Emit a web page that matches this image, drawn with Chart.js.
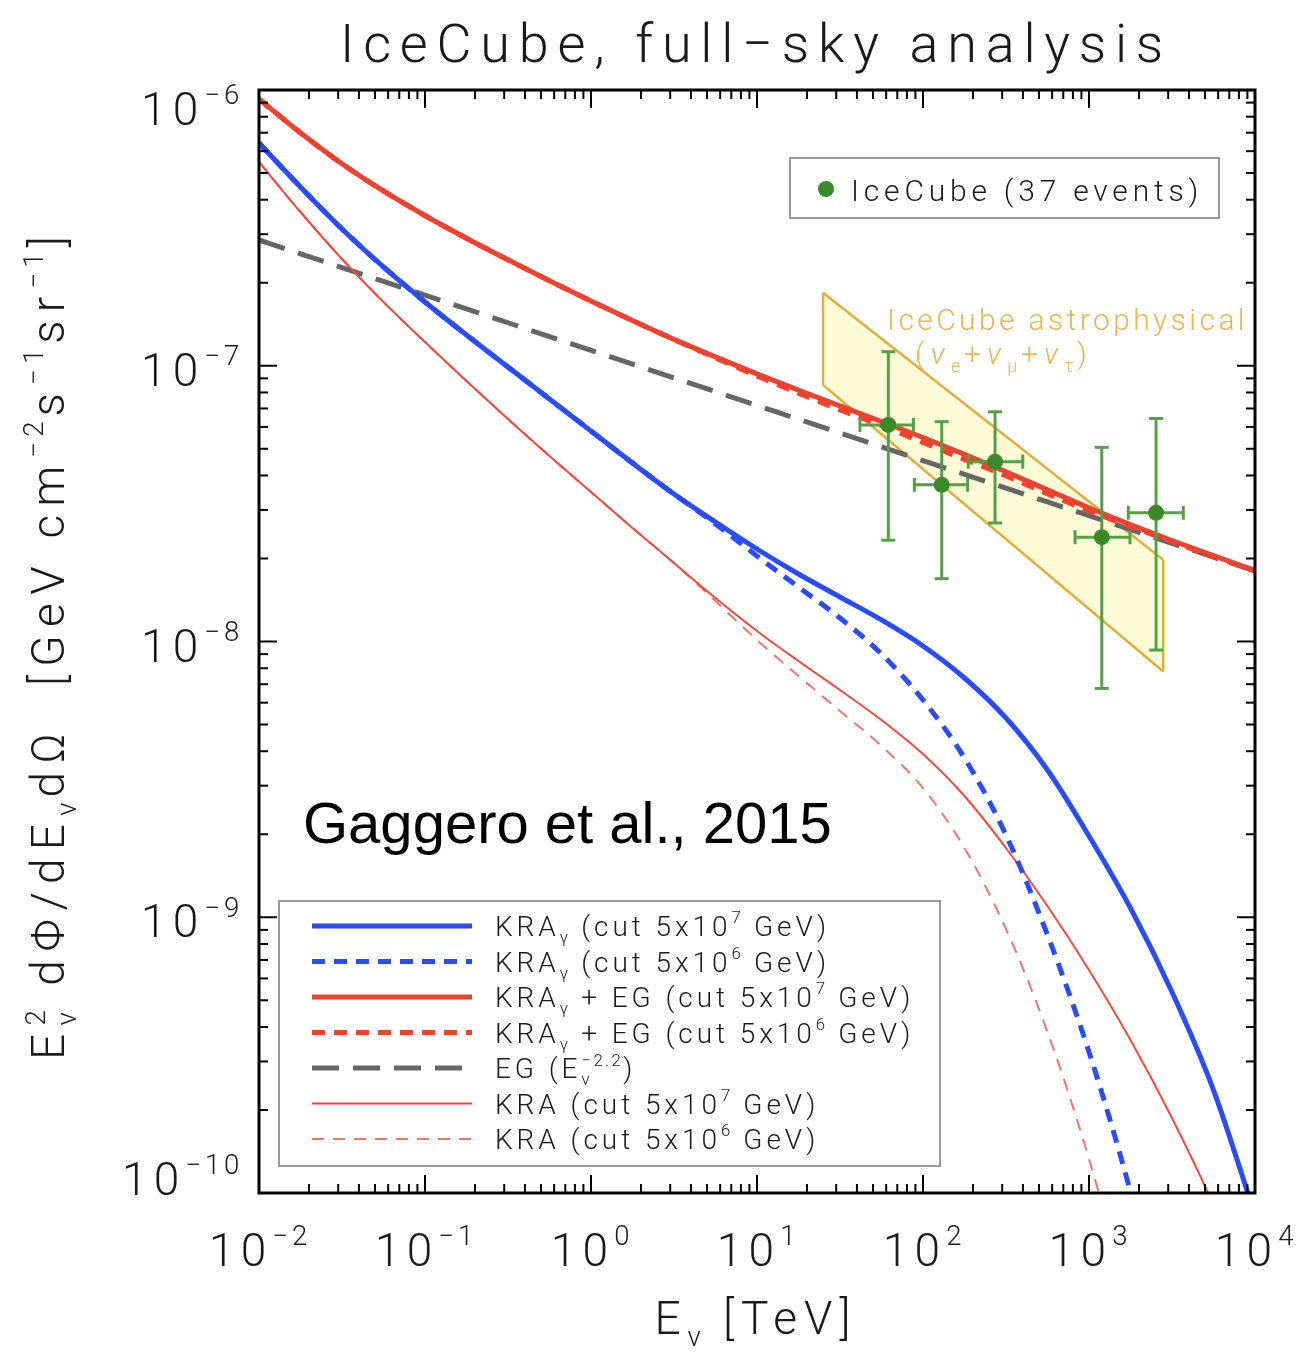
<!DOCTYPE html>
<html><head><meta charset="utf-8">
<script src="https://cdn.jsdelivr.net/npm/chart.js@4.4.1/dist/chart.umd.min.js"></script>
<style>html,body{margin:0;padding:0;background:#fff;}canvas{display:block;}</style>
</head><body>
<canvas id="c" width="1313" height="1353"></canvas>
<script>
// ---------------- data ----------------
const energyTeV = [0.01, 0.01778, 0.03162, 0.05623, 0.1, 0.1778, 0.3162, 0.5623, 1, 1.778, 3.162, 5.623, 10,
                   17.78, 31.62, 56.23, 100, 177.8, 316.2, 562.3, 1000, 1778, 3162, 5623, 10000];
const kraGammaCut7   = [6.424e-7, 4.448e-7, 3.133e-7, 2.281e-7, 1.703e-7, 1.293e-7, 9.896e-8, 7.576e-8, 5.799e-8, 4.439e-8,
                        3.427e-8, 2.712e-8, 2.165e-8, 1.757e-8, 1.450e-8, 1.197e-8, 9.631e-9, 7.373e-9, 5.279e-9, 3.420e-9,
                        1.970e-9, 1.080e-9, 5.357e-10, 2.363e-10, 8.32e-11];
const kraGammaCut6   = [6.424e-7, 4.448e-7, 3.133e-7, 2.281e-7, 1.703e-7, 1.293e-7, 9.896e-8, 7.576e-8, 5.799e-8, 4.439e-8,
                        3.427e-8, 2.668e-8, 2.042e-8, 1.576e-8, 1.217e-8, 9.009e-9, 6.136e-9, 3.780e-9, 1.987e-9, 8.621e-10,
                        3.245e-10, 1.008e-10, 2.48e-11, null, null];
const kraGammaEgCut7 = [9.282e-7, 6.995e-7, 5.403e-7, 4.304e-7, 3.506e-7, 2.900e-7, 2.422e-7, 2.034e-7, 1.718e-7, 1.458e-7,
                        1.246e-7, 1.077e-7, 9.343e-8, 8.154e-8, 7.152e-8, 6.279e-8, 5.492e-8, 4.773e-8, 4.126e-8, 3.548e-8,
                        3.055e-8, 2.655e-8, 2.324e-8, 2.047e-8, 1.811e-8];
const kraGammaEgCut6 = [9.282e-7, 6.995e-7, 5.403e-7, 4.304e-7, 3.506e-7, 2.900e-7, 2.422e-7, 2.034e-7, 1.718e-7, 1.458e-7,
                        1.246e-7, 1.068e-7, 9.188e-8, 7.952e-8, 6.917e-8, 6.073e-8, 5.268e-8, 4.578e-8, 3.990e-8, 3.432e-8,
                        2.979e-8, 2.611e-8, 2.305e-8, 2.030e-8, 1.805e-8];
const egPowerLaw     = [2.858e-7, 2.547e-7, 2.270e-7, 2.023e-7, 1.803e-7, 1.607e-7, 1.432e-7, 1.276e-7, 1.138e-7, 1.014e-7,
                        9.036e-8, 8.054e-8, 7.178e-8, 6.397e-8, 5.702e-8, 5.082e-8, 4.529e-8, 4.036e-8, 3.598e-8, 3.206e-8,
                        2.858e-8, 2.547e-8, 2.270e-8, 2.023e-8, 1.803e-8];
const kraCut7        = [5.482e-7, 3.611e-7, 2.439e-7, 1.703e-7, 1.219e-7, 8.808e-8, 6.411e-8, 4.706e-8, 3.485e-8, 2.580e-8,
                        1.926e-8, 1.438e-8, 1.092e-8, 8.497e-9, 6.670e-9, 5.192e-9, 3.909e-9, 2.752e-9, 1.783e-9, 1.099e-9,
                        6.438e-10, 3.588e-10, 1.871e-10, 9.047e-11, 3.925e-11];
const kraCut6        = [5.482e-7, 3.611e-7, 2.439e-7, 1.703e-7, 1.219e-7, 8.808e-8, 6.411e-8, 4.706e-8, 3.485e-8, 2.580e-8,
                        1.926e-8, 1.402e-8, 1.013e-8, 7.497e-9, 5.598e-9, 4.179e-9, 2.942e-9, 1.783e-9, 9.066e-10, 3.836e-10,
                        1.329e-10, 3.765e-11, null, null, null];

// IceCube 37 events
const icEnergy   = [61.8, 129.7, 271.6, 1194, 2535];
const icEnergyLo = [41.7, 88.7, 187.5, 824, 1725];
const icEnergyHi = [87.5, 185.8, 399, 1766, 3698];
const icFlux     = [6.10e-8, 3.70e-8, 4.49e-8, 2.39e-8, 2.93e-8];
const icFluxLo   = [2.33e-8, 1.69e-8, 2.69e-8, 6.76e-9, 9.31e-9];
const icFluxHi   = [1.125e-7, 6.27e-8, 6.81e-8, 5.06e-8, 6.44e-8];

// IceCube astrophysical band
const bandEnergy = [25, 2800];
const bandUpper  = [1.84e-7, 1.98e-8];
const bandLower  = [8.51e-8, 7.78e-9];

// ticks
const xTickExponents = [-2, -1, 0, 1, 2, 3, 4];
const yTickExponents = [-10, -9, -8, -7, -6];

const legendLabels = [
  [{t:'KRA'},{t:'γ',k:'sub'},{t:' (cut 5x10'},{t:'7',k:'sup'},{t:' GeV)'}],
  [{t:'KRA'},{t:'γ',k:'sub'},{t:' (cut 5x10'},{t:'6',k:'sup'},{t:' GeV)'}],
  [{t:'KRA'},{t:'γ',k:'sub'},{t:' + EG (cut 5x10'},{t:'7',k:'sup'},{t:' GeV)'}],
  [{t:'KRA'},{t:'γ',k:'sub'},{t:' + EG (cut 5x10'},{t:'6',k:'sup'},{t:' GeV)'}],
  [{t:'EG ('},{t:'E'},{k:'stack',sup:'−2.2',sub:'ν'},{t:')'}],
  [{t:'KRA (cut 5x10'},{t:'7',k:'sup'},{t:' GeV)'}],
  [{t:'KRA (cut 5x10'},{t:'6',k:'sup'},{t:' GeV)'}]
];

// ---------------- styles ----------------
const BLUE = '#2a4cf6', RED = '#ee4231', RED_THIN = '#f04a3c', RED_THIN_D = '#f27468', GRAY = '#666666';
const GREEN = '#3b8a2a', GREEN_BAR = '#55a046', GOLD = '#e2ad3c', GOLD_TXT = '#e9b451';
const FAM = 'Roboto, "Liberation Sans", Arial, sans-serif';
const WEIGHT = '300';

function pts(arr){ return energyTeV.map((e,i)=>({x:e,y:arr[i]})).filter(p=>p.y!=null); }
function lineDs(id, arr, color, width, dash, order){
  return {id, data: pts(arr), showLine:true, borderColor:color, backgroundColor:color, borderWidth:width,
    borderDash:dash, pointRadius:0, cubicInterpolationMode:'monotone', fill:false, order, clip:0};
}
const styles = [
  {c:BLUE, w:5, d:[]}, {c:BLUE, w:5, d:[13,9]}, {c:RED, w:5, d:[]}, {c:RED, w:5, d:[13,9]},
  {c:GRAY, w:5, d:[27,14]}, {c:RED_THIN, w:2, d:[]}, {c:RED_THIN_D, w:2, d:[12,9]}
];

const datasets = [
  {id:'bandTop', data: bandEnergy.map((e,i)=>({x:e,y:bandUpper[i]})), showLine:true, borderColor:GOLD, borderWidth:2.5,
    backgroundColor:'rgba(251,251,214,1)', fill:'+1', pointRadius:0, order:100, tension:0},
  {id:'bandBot', data: bandEnergy.map((e,i)=>({x:e,y:bandLower[i]})), showLine:true, borderColor:GOLD, borderWidth:2.5,
    fill:false, pointRadius:0, order:99, tension:0},
  {id:'bandL', data: [{x:bandEnergy[0],y:bandUpper[0]},{x:bandEnergy[0],y:bandLower[0]}], showLine:true, borderColor:GOLD, borderWidth:2.5, pointRadius:0, order:98},
  {id:'bandR', data: [{x:bandEnergy[1],y:bandUpper[1]},{x:bandEnergy[1],y:bandLower[1]}], showLine:true, borderColor:GOLD, borderWidth:2.5, pointRadius:0, order:98},
  lineDs('eg', egPowerLaw, GRAY, 5, [27,14], 60),
  lineDs('kra6', kraCut6, RED_THIN_D, 2, [12,9], 55),
  lineDs('kra7', kraCut7, RED_THIN, 2, [], 54),
  lineDs('kg6', kraGammaCut6, BLUE, 5, [13,9], 52),
  lineDs('kg7', kraGammaCut7, BLUE, 5, [], 53),
  lineDs('kge7', kraGammaEgCut7, RED, 5, [], 41),
  lineDs('kge6', kraGammaEgCut6, RED, 5, [13,9], 40),
  {id:'ic', data: icEnergy.map((e,i)=>({x:e,y:icFlux[i]})), showLine:false, pointRadius:8, pointBackgroundColor:GREEN,
    pointBorderWidth:0, backgroundColor:GREEN, order:0, clip:false}
];

// ---------------- rich text helpers ----------------
function segSize(s,S){ return (s.k==='sub'||s.k==='sup'||s.k==='stack') ? S*0.6 : S; }
function applyFont(ctx,s,S,ls,fam,wt){
  const sz = segSize(s,S);
  ctx.font = (s.it?'italic ':'') + (wt||WEIGHT) + ' ' + sz + 'px ' + (fam||FAM);
  ctx.letterSpacing = (ls*sz/S) + 'px';
}
function segW(ctx,s,S,ls,fam,wt){
  applyFont(ctx,s,S,ls,fam,wt);
  if (s.k==='stack') return Math.max(ctx.measureText(s.sup).width, ctx.measureText(s.sub).width);
  return ctx.measureText(s.t).width;
}
function richW(ctx,segs,S,ls,fam,wt){ let w=0; for(const s of segs) w+=segW(ctx,s,S,ls,fam,wt); return w; }
function fitLS(ctx,segs,S,target,fam,wt){
  const w0 = richW(ctx,segs,S,0,fam,wt), w1 = richW(ctx,segs,S,1,fam,wt);
  let k = w1-w0;
  if (k < 0.5) { k = 0; for (const s of segs) k += (s.k==='stack'? Math.max(s.sup.length,s.sub.length): s.t.length)*segSize(s,S)/S; }
  return (target-w0)/k;
}
function drawRich(ctx,segs,x,y,S,ls,align,color,fam,wt){
  const w = richW(ctx,segs,S,ls,fam,wt);
  let cx = align==='center' ? x-w/2 : (align==='right' ? x-w : x);
  ctx.fillStyle = color; ctx.textAlign='left'; ctx.textBaseline='alphabetic';
  for (const s of segs){
    applyFont(ctx,s,S,ls,fam,wt);
    if (s.k==='stack'){
      ctx.fillText(s.sup, cx, y-S*0.42);
      ctx.fillText(s.sub, cx, y+S*0.25);
      cx += Math.max(ctx.measureText(s.sup).width, ctx.measureText(s.sub).width);
    } else {
      const dy = s.k==='sup' ? -S*0.45 : (s.k==='sub' ? S*0.25 : 0);
      ctx.fillText(s.t, cx, y+dy);
      cx += ctx.measureText(s.t).width;
    }
  }
  ctx.letterSpacing = '0px';
}
function drawFit(ctx,segs,x,y,S,target,align,color,fam,wt){
  const ls = fitLS(ctx,segs,S,target,fam,wt);
  drawRich(ctx,segs,x,y,S,ls,align,color,fam,wt);
}
function seg(ctx,x0,y0,x1,y1){ ctx.beginPath(); ctx.moveTo(x0,y0); ctx.lineTo(x1,y1); ctx.stroke(); }

// ---------------- plugin ----------------
const decor = {
  id:'decor',
  beforeDatasetDraw(chart,args){
    if (chart.data.datasets[args.index].id !== 'ic') return;
    const xs=chart.scales.x, ys=chart.scales.y, c=chart.ctx;
    c.save(); c.strokeStyle=GREEN_BAR; c.lineWidth=3; c.setLineDash([]);
    for (let i=0;i<icEnergy.length;i++){
      const x=xs.getPixelForValue(icEnergy[i]), y=ys.getPixelForValue(icFlux[i]);
      const x0=xs.getPixelForValue(icEnergyLo[i]), x1=xs.getPixelForValue(icEnergyHi[i]);
      const yt=ys.getPixelForValue(icFluxHi[i]), yb=ys.getPixelForValue(icFluxLo[i]);
      seg(c,x0,y,x1,y); seg(c,x,yt,x,yb);
      seg(c,x0,y-7,x0,y+7); seg(c,x1,y-7,x1,y+7);
      seg(c,x-7,yt,x+7,yt); seg(c,x-7,yb,x+7,yb);
    }
    c.restore();
  },
  afterDraw(chart){
    const c=chart.ctx, xs=chart.scales.x, ys=chart.scales.y, a=chart.chartArea;
    c.save();
    c.strokeStyle='#000'; c.lineWidth=3; c.setLineDash([]);
    c.strokeRect(a.left,a.top,a.right-a.left,a.bottom-a.top);
    c.lineWidth=2;
    const xd0=xTickExponents[0], xd1=xTickExponents[xTickExponents.length-1];
    for (let d=xd0; d<=xd1; d++){
      for (let m=1;m<=9;m++){
        if (d===xd1 && m>1) break;
        const px=xs.getPixelForValue(m*Math.pow(10,d)); const L=m===1?18:9;
        seg(c,px,a.bottom,px,a.bottom-L); seg(c,px,a.top,px,a.top+L);
      }
    }
    const yd0=yTickExponents[0], yd1=yTickExponents[yTickExponents.length-1];
    for (let d=yd0; d<=yd1; d++){
      for (let m=1;m<=9;m++){
        if (d===yd1 && m>1) break;
        const py=ys.getPixelForValue(m*Math.pow(10,d)); const L=m===1?18:9;
        seg(c,a.left,py,a.left+L,py); seg(c,a.right,py,a.right-L,py);
      }
    }
    const TXT='#1a1a1a';
    const tickLS = fitLS(c,[{t:'10'},{t:'−6',k:'sup'}],46,102);
    yTickExponents.forEach((e,i)=>{
      const py=ys.getPixelForValue(Math.pow(10,e));
      let base = py+20;
      if (i===0) base = py+2;
      if (i===yTickExponents.length-1) base = py+35;
      drawRich(c,[{t:'10'},{t:(e<0?'−':'')+Math.abs(e),k:'sup'}],243,base,46,tickLS,'right',TXT);
    });
    xTickExponents.forEach(e=>{
      const px=xs.getPixelForValue(Math.pow(10,e));
      drawRich(c,[{t:'10'},{t:(e<0?'−':'')+Math.abs(e),k:'sup'}],px+1,1266,46,tickLS,'center',TXT);
    });
    drawFit(c,[{t:'IceCube, full−sky analysis'}],756,62,54,832,'center',TXT);
    drawFit(c,[{t:'E'},{t:'ν',k:'sub'},{t:' [TeV]'}],756,1334,46,203,'center',TXT);
    c.save(); c.translate(64,644); c.rotate(-Math.PI/2);
    drawFit(c,[{t:'E'},{k:'stack',sup:'2',sub:'ν'},{t:' dΦ/dE'},{t:'ν',k:'sub'},{t:'dΩ  [GeV cm'},{t:'−2',k:'sup'},{t:'s'},{t:'−1',k:'sup'},{t:'sr'},{t:'−1',k:'sup'},{t:']'}],0,0,46,832,'center',TXT);
    c.restore();
    // legend 1
    c.strokeStyle='#999'; c.lineWidth=2; c.strokeRect(790,158,429,60);
    c.fillStyle=GREEN; c.beginPath(); c.arc(826,189,8,0,Math.PI*2); c.fill();
    drawFit(c,[{t:'IceCube (37 events)'}],851,201,30,352,'left',TXT);
    // band label
    drawFit(c,[{t:'IceCube astrophysical'}],887,330,30,361,'left',GOLD_TXT);
    drawFit(c,[{t:'('},{t:'ν',it:true},{t:'e',k:'sub'},{t:'+'},{t:'ν',it:true},{t:'μ',k:'sub'},{t:'+'},{t:'ν',it:true},{t:'τ',k:'sub'},{t:')'}],915,364,30,178,'left',GOLD_TXT);
    // legend 2
    c.strokeStyle='#999'; c.lineWidth=2; c.strokeRect(279,901,661,265);
    const legLS = fitLS(c,legendLabels[0],28,335);
    legendLabels.forEach((segs,i)=>{
      const y=926+i*35.5, st=styles[i];
      c.strokeStyle=st.c; c.lineWidth=st.w; c.setLineDash(st.d); c.lineCap='butt';
      seg(c,312,y,472,y); c.setLineDash([]);
      drawRich(c,segs,495,y+10,28,legLS,'left',TXT);
    });
    c.font='58px "Liberation Sans", Arial, sans-serif'; c.fillStyle='#000'; c.textAlign='left'; c.letterSpacing='0px';
    c.fillText('Gaggero et al., 2015',303,843);
    c.restore();
  }
};

new Chart(document.getElementById('c'), {
  type:'scatter',
  data:{datasets},
  options:{
    responsive:false, animation:false, devicePixelRatio:1,
    layout:{padding:{left:259,right:58,top:90,bottom:160}},
    plugins:{legend:{display:false}, tooltip:{enabled:false}, title:{display:false}},
    scales:{
      x:{type:'logarithmic', min:0.01, max:1e4, display:false},
      y:{type:'logarithmic', min:1e-10, max:1e-6, display:false}
    }
  },
  plugins:[decor]
});
</script>
</body></html>
